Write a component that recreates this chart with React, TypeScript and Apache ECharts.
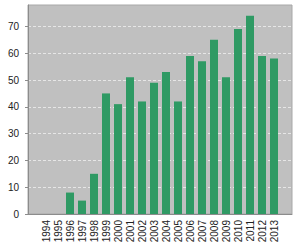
import React, { useEffect, useRef } from "react";
import * as echarts from "echarts";

const years = [
  "1994", "1995", "1996", "1997", "1998", "1999", "2000", "2001", "2002", "2003",
  "2004", "2005", "2006", "2007", "2008", "2009", "2010", "2011", "2012", "2013",
];
const counts = [0, 0, 8, 5, 15, 45, 41, 51, 42, 49, 53, 42, 59, 57, 65, 51, 69, 74, 59, 58];
const yMin = 0;
const yMax = 78;
const yStep = 10;

export default function App() {
  const ref = useRef<HTMLDivElement>(null);
  useEffect(() => {
    if (!ref.current) return;
    const chart = echarts.init(ref.current, null, { renderer: "svg" });
    const font = "'Liberation Sans', Arial, sans-serif";
    chart.setOption({
      animation: false,
      backgroundColor: "#ffffff",
      grid: [
        {
          left: 28,
          right: 8,
          top: 5,
          bottom: 36,
          show: true,
          backgroundColor: "#c0c0c0",
          borderColor: "#a8a8a8",
          borderWidth: 1,
        },
        { left: 40, right: 20, top: 5, bottom: 36 },
      ],
      xAxis: [
        {
          gridIndex: 0,
          type: "value",
          min: 0,
          max: 1,
          axisLine: { show: true, lineStyle: { color: "#8c8c8c", width: 1 } },
          axisTick: { show: false },
          axisLabel: { show: false },
          splitLine: { show: false },
        },
        {
          gridIndex: 1,
          type: "category",
          data: years,
          axisLine: { show: false },
          axisTick: { show: false },
          axisLabel: {
            rotate: 90,
            interval: 0,
            margin: 6,
            fontSize: 10,
            fontFamily: font,
            color: "#222",
          },
        },
      ],
      yAxis: [
        {
          gridIndex: 0,
          type: "value",
          min: yMin,
          max: yMax,
          interval: yStep,
          axisLine: { show: true, lineStyle: { color: "#8c8c8c", width: 1 } },
          axisTick: { show: true, length: 3, lineStyle: { color: "#8c8c8c" } },
          axisLabel: {
            margin: 9,
            fontSize: 10,
            fontFamily: font,
            color: "#222",
            showMaxLabel: false,
          },
          splitLine: {
            show: true,
            showMaxLine: false,
            showMinLine: false,
            lineStyle: { color: "#e6e6e6", type: [3, 2], width: 1 },
          },
        },
        {
          gridIndex: 1,
          type: "value",
          min: yMin,
          max: yMax,
          show: false,
          splitLine: { show: false },
        },
      ],
      series: [
        {
          type: "bar",
          xAxisIndex: 1,
          yAxisIndex: 1,
          data: counts,
          barWidth: 8,
          itemStyle: { color: "#2f9a64" },
        },
      ],
    });
    return () => chart.dispose();
  }, []);
  return <div ref={ref} style={{ width: 300, height: 250, position: "absolute", left: 0, top: 0 }} />;
}
